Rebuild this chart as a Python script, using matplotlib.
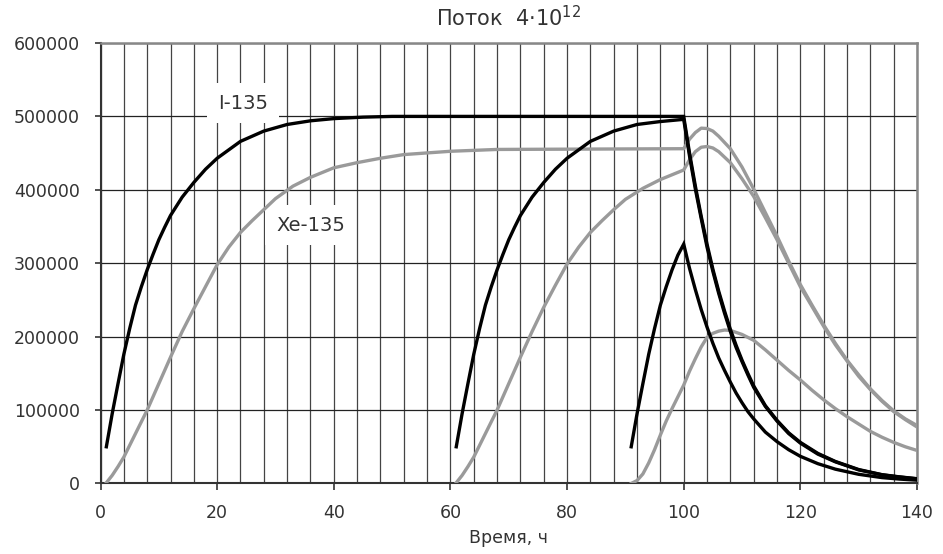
import matplotlib
matplotlib.use('Agg')
import matplotlib.pyplot as plt
from matplotlib.ticker import MultipleLocator

plt.rcParams['font.family'] = ['DejaVu Sans']
plt.rcParams['font.size'] = 12.5

# I-135, реактор работает с 1 ч
i1_t = [1, 2, 3, 4, 5, 6, 7, 8, 9, 10, 11, 12, 14, 16, 18, 20, 24, 28, 32, 36, 40, 45, 50, 60, 100,
        101, 102, 103, 104, 105, 106, 107, 108, 109, 110, 111, 112, 114, 116, 118, 120, 123, 126,
        130, 134, 137, 140]
i1_v = [50000, 95000, 136000, 176000, 211000, 243000, 268000, 291000, 312000, 332000, 349000,
        365000, 390000, 410000, 428000, 443000, 466000, 480000, 489000, 494000, 497000, 499000,
        500000, 500000, 500000,
        450000, 405000, 364000, 326000, 292000, 262000, 235000, 210000, 188000, 168000, 150000,
        133000, 106000, 86000, 69000, 56000, 41000, 30000, 19000, 12000, 9000, 6500]

# Xe-135, реактор работает с 1 ч
x1_t = [1, 2, 3, 4, 5, 6, 8, 10, 12, 14, 16, 18, 20, 22, 24, 26, 28, 30, 33, 36, 40, 44, 48, 52,
        60, 68, 100, 101, 102, 103, 104, 105, 106, 108, 110, 112, 114, 116, 118, 120, 122, 124,
        126, 128, 130, 132, 134, 136, 138, 140]
x1_v = [1000, 11000, 23000, 36000, 52000, 68000, 100000, 136000, 172000, 207000, 238000, 268000,
        298000, 322000, 342000, 358000, 373000, 388000, 405000, 417000, 430000, 437000, 443000,
        448000, 452500, 455000, 456000, 469000, 478000, 484000, 483500, 480000, 473000, 456000,
        431000, 401000, 369000, 337000, 303000, 271000, 243000, 216000, 191000, 168000, 148000,
        129000, 113000, 99000, 88000, 79000]

# I-135, пуск на 61 ч
i2_t = [61, 62, 63, 64, 65, 66, 67, 68, 69, 70, 71, 72, 74, 76, 78, 80, 84, 88, 92, 96, 100,
        101, 102, 103, 104, 105, 106, 107, 108, 109, 110, 111, 112, 114, 116, 118, 120, 123, 126,
        130, 134, 137, 140]
i2_v = [50000, 95000, 136000, 176000, 211000, 243000, 268000, 291000, 312000, 332000, 349000,
        365000, 390000, 410000, 428000, 443000, 466000, 480000, 489000, 493000, 496000,
        446000, 401000, 361000, 322000, 289000, 259000, 232000, 207000, 185000, 166000, 148000,
        131000, 105000, 85000, 68000, 55000, 40000, 29500, 18500, 11800, 8800, 6300]

# Xe-135, пуск на 61 ч
x2_t = [61, 62, 63, 64, 65, 66, 68, 70, 72, 74, 76, 78, 80, 82, 84, 86, 88, 90, 93, 96, 100,
        101, 102, 103, 104, 105, 106, 108, 110, 112, 114, 116, 118, 120, 122, 124, 126, 128, 130,
        132, 134, 136, 138, 140]
x2_v = [1000, 11000, 23000, 36000, 52000, 68000, 100000, 136000, 172000, 207000, 240000, 270000,
        299000, 322000, 342000, 358000, 373000, 387000, 402000, 414000, 427000, 441000, 452000,
        458000, 459000, 457000, 452000, 437000, 415000, 391000, 362000, 332000, 300000, 268000,
        241000, 214000, 189000, 167000, 146000, 128000, 112000, 98000, 87000, 77000]

# I-135, пуск на 91 ч
i3_t = [91, 92, 93, 94, 95, 96, 97, 98, 99, 100, 101, 102, 103, 104, 105, 106, 107, 108, 109,
        110, 111, 112, 114, 116, 118, 120, 123, 126, 130, 134, 137, 140]
i3_v = [50000, 95000, 136000, 176000, 211000, 243000, 268000, 291000, 311000, 326000, 293000,
        264000, 237000, 213000, 191000, 171000, 154000, 138000, 123000, 110000, 98000, 88000,
        70000, 57000, 46000, 37000, 27000, 19500, 12500, 8000, 6000, 4500]

# Xe-135, пуск на 91 ч
x3_t = [91, 92, 93, 94, 95, 96, 97, 98, 99, 100, 101, 102, 103, 104, 105, 106, 107, 108, 110,
        112, 114, 116, 118, 120, 122, 124, 126, 128, 130, 132, 134, 136, 138, 140]
x3_v = [0, 4000, 13000, 28000, 46000, 66000, 85000, 102000, 118000, 134000, 153000, 170000,
        186000, 199000, 204500, 207500, 209000, 208500, 203000, 195000, 182000, 168000, 154000,
        141000, 127000, 114000, 102000, 91000, 81000, 71000, 63000, 56000, 50000, 45000]

x_ticks = [0, 20, 40, 60, 80, 100, 120, 140]
y_ticks = [0, 100000, 200000, 300000, 400000, 500000, 600000]

fig = plt.figure(figsize=(9.43, 5.54), dpi=100)
ax = fig.add_axes([0.1066, 0.1273, 0.8658, 0.7951])

black = '#000000'
gray = '#9a9a9a'
for t, v in [(x1_t, x1_v), (x2_t, x2_v), (x3_t, x3_v)]:
    ax.plot(t, v, color=gray, lw=2.4, zorder=3, solid_joinstyle='round')
for t, v in [(i1_t, i1_v), (i2_t, i2_v), (i3_t, i3_v)]:
    ax.plot(t, v, color=black, lw=2.4, zorder=4, solid_joinstyle='miter')

ax.set_xlim(0, 140)
ax.set_ylim(0, 600000)
ax.set_xticks(x_ticks)
ax.set_yticks(y_ticks)
ax.set_yticklabels([str(v) for v in y_ticks])
ax.xaxis.set_minor_locator(MultipleLocator(4))

ax.set_axisbelow(True)
ax.grid(which='both', axis='x', color='#444444', lw=0.9)
ax.grid(which='major', axis='y', color='#222222', lw=0.9)

ax.tick_params(axis='x', which='major', length=5, width=1.2, pad=10, colors='#333333')
ax.tick_params(axis='x', which='minor', length=0)
ax.tick_params(axis='y', length=4, width=1.2, pad=11, colors='#333333')

for s in ['left', 'bottom']:
    ax.spines[s].set_color('#333333')
    ax.spines[s].set_linewidth(1.5)
for s in ['top', 'right']:
    ax.spines[s].set_color('#888888')
    ax.spines[s].set_linewidth(1.8)

ax.set_title('Поток  4·10$^{12}$', pad=12, color='#333333')
ax.set_xlabel('Время, ч', labelpad=5, color='#333333')

# подписи кривых на белой подложке поверх сетки
box = dict(boxstyle='square,pad=0.55', fc='white', ec='none')
ax.text(24.4, 518000, 'I-135', ha='center', va='center', color='#333333', fontsize=14,
        bbox=box, zorder=2)
ax.text(36.0, 352000, 'Xe-135', ha='center', va='center', color='#333333', fontsize=14,
        bbox=box, zorder=2)

fig.savefig('out.png', dpi=100)
